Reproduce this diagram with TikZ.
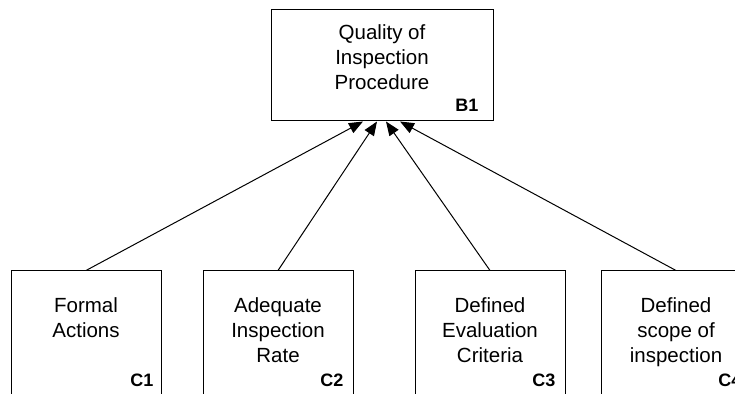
\documentclass[tikz,border=0pt]{standalone}
\usepackage{fontspec}
\setmainfont{Liberation Sans}
\usetikzlibrary{arrows.meta,positioning}

\begin{document}
\begin{tikzpicture}[x=1pt, y=1pt, node distance=1cm,
    box/.style={rectangle, draw=black, line width=1pt, minimum width=150pt, minimum height=130pt, inner sep=0pt},
    boxtext/.style={anchor=north, align=center, inner sep=0pt, text=black, font=\fontsize{20.5}{25}\selectfont},
    boxid/.style={anchor=base east, inner sep=0pt, text=black, font=\fontsize{18}{20}\selectfont\bfseries},
    link/.style={-{Triangle[length=14pt,width=11pt]}, line width=1pt}]
    \clip (0,0) rectangle (735,393);

    % goal on top
    \node (B1) [box, minimum width=222pt, minimum height=111pt] at (382,327.5) {};
    \node (B1text) [boxtext, below=14.5pt of B1.north] {Quality of\\Inspection\\Procedure};
    \node (B1id) [boxid] at ([xshift=-15pt, yshift=10pt]B1.south east) {B1};

    % criteria below
    \node (C1) [box] at (86,57) {};
    \node (C2) [box, right=41pt of C1] {};
    \node (C3) [box, right=61pt of C2] {};
    \node (C4) [box, right=35pt of C3] {};

    \node (C1text) [boxtext, below=26.5pt of C1.north] {Formal\\Actions};
    \node (C2text) [boxtext, below=26.5pt of C2.north] {Adequate\\Inspection\\Rate};
    \node (C3text) [boxtext, below=26.5pt of C3.north] {Defined\\Evaluation\\Criteria};
    \node (C4text) [boxtext, below=26.5pt of C4.north] {Defined\\scope of\\inspection};

    \node (C1id) [boxid] at ([xshift=-8pt, yshift=-116pt]C1.north east) {C1};
    \node (C2id) [boxid] at ([xshift=-10pt, yshift=-116pt]C2.north east) {C2};
    \node (C3id) [boxid] at ([xshift=-10pt, yshift=-116pt]C3.north east) {C3};
    \node (C4id) [boxid] at ([xshift=-10pt, yshift=-116pt]C4.north east) {C4};

    \draw[link] (C1.north) -- ([xshift=-19pt]B1.south);
    \draw[link] (C2.north) -- ([xshift=-5pt]B1.south);
    \draw[link] (C3.north) -- ([xshift=4pt]B1.south);
    \draw[link] (C4.north) -- ([xshift=18pt]B1.south);
\end{tikzpicture}
\end{document}
